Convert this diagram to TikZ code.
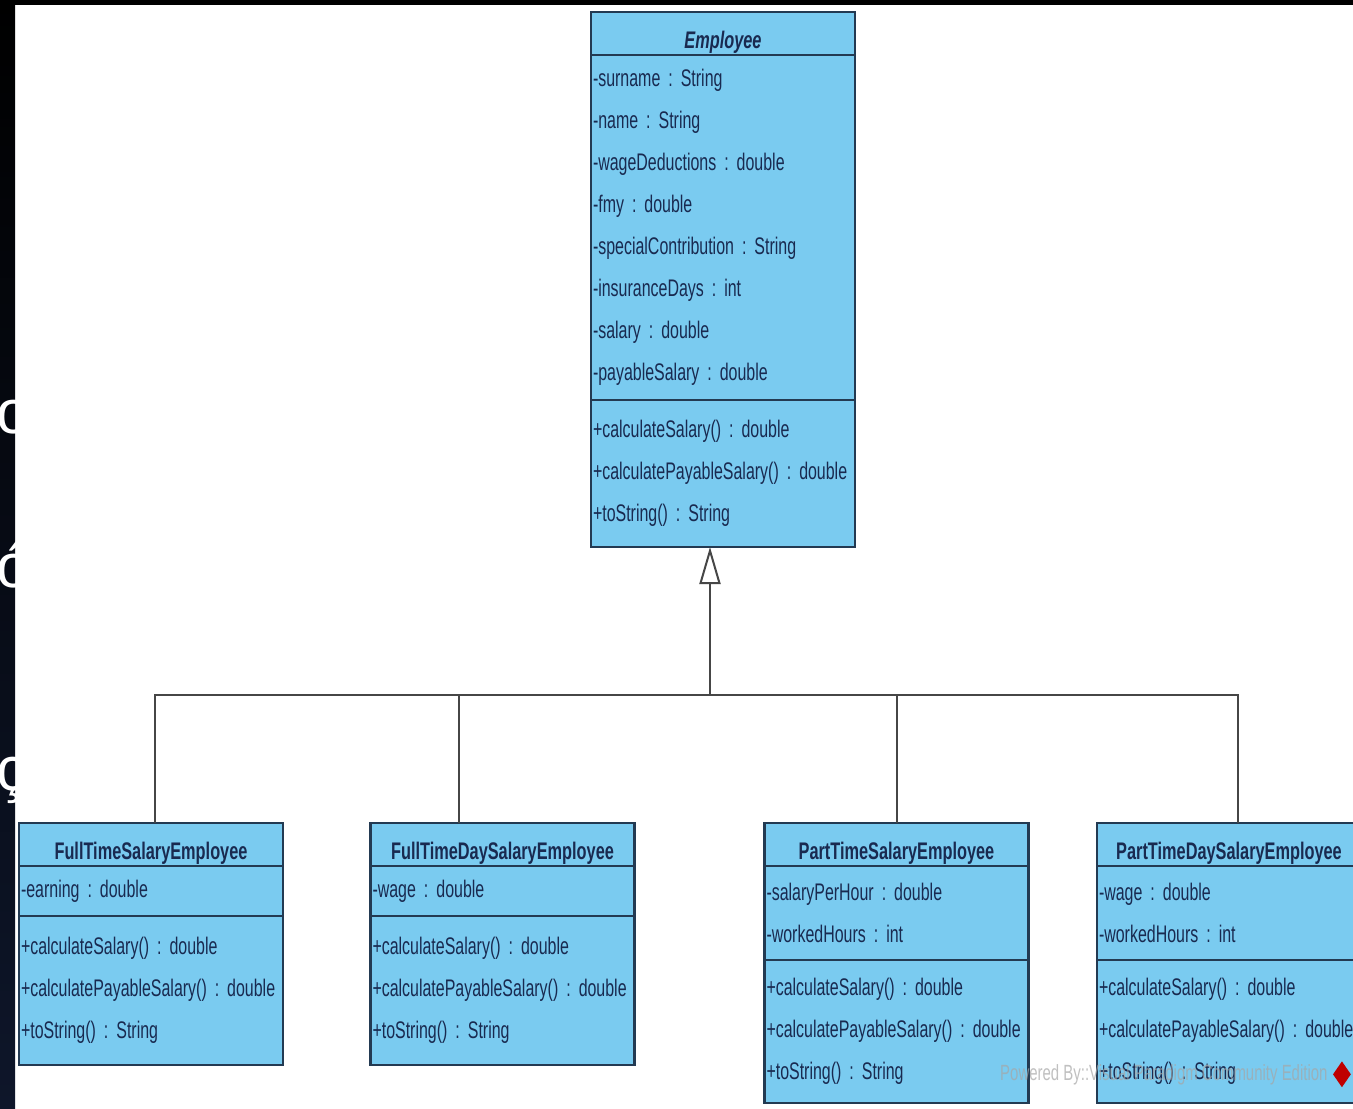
\documentclass[tikz,border=0pt]{standalone}
\usepackage{fontspec}
\newfontfamily\umlfont{Liberation Sans}[FakeStretch=0.68]
\newfontfamily\umlpartfont{Liberation Sans}[FakeStretch=0.665]
\newfontfamily\slidefont{Liberation Sans}
\usepackage{tikz}
\usetikzlibrary{positioning,arrows.meta,shapes.geometric}

\definecolor{umlfill}{RGB}{122,203,240}
\definecolor{umlline}{RGB}{35,58,82}
\definecolor{umltext}{RGB}{25,42,80}
\definecolor{umlgray}{RGB}{70,70,70}
\definecolor{slidebg}{RGB}{14,22,42}

\tikzset{
  classhead/.style={draw=umlline, fill=umlfill, line width=2.5pt, outer sep=0pt, inner sep=0pt,
    minimum width=264pt, minimum height=43pt, text=umltext, text height=29pt, text depth=0pt,
    font=\umlfont\bfseries\fontsize{24}{28}\selectfont},
  classpart/.style={draw=umlline, fill=umlfill, line width=2.5pt, outer sep=0pt,
    inner xsep=2pt, inner ysep=0pt, text width=260pt, align=left, text=umltext,
    font=\umlpartfont\fontsize{24}{42}\selectfont},
  genline/.style={draw=umlgray, line width=2pt},
}

\begin{document}
\frenchspacing
\hyphenpenalty=10000
\begin{tikzpicture}[x=1pt,y=-1pt]
% picture is in pixels of the screenshot, y going down
\def\picw{1353}
\def\pich{1109}
\useasboundingbox (0,0) rectangle (\picw,\pich);
\clip (0,0) rectangle (\picw,\pich);
\fill[white] (0,0) rectangle (\picw,\pich);

% dark slide edges behind the screenshot
\shade[top color=black, bottom color=slidebg] (0,0) rectangle (15,\pich);
\fill[black] (0,0) rectangle (\picw,5);
\begin{scope}
\clip (0,0) rectangle (15,\pich);
\node[anchor=base west, inner sep=0pt, text=white, font=\slidefont\fontsize{62}{62}\selectfont] (lo) at (-4,433) {o};
\node[anchor=base west, inner sep=0pt, text=white, font=\slidefont\fontsize{62}{62}\selectfont] (loacute) at (-4,587) {ó};
\node[anchor=base west, inner sep=0pt, text=white, font=\slidefont\fontsize{62}{62}\selectfont] (lccedil) at (-4,790) {ç};
\end{scope}

% superclass
\node[classhead] (emphead) at (723,33.5) {\itshape Employee};
\node[classpart, minimum height=345pt, below=0pt of emphead] (empattr) {-surname : String\\-name : String\\-wageDeductions : double\\-fmy : double\\-specialContribution : String\\-insuranceDays : int\\-salary : double\\-payableSalary : double};
\node[classpart, minimum height=147pt, below=0pt of empattr] (empmeth) {+calculateSalary() : double\\+calculatePayableSalary() : double\\+toString() : String};

% subclasses
\node[classhead] (fthead) at (151,844.5) {FullTimeSalaryEmployee};
\node[classpart, minimum height=50pt, below=0pt of fthead] (ftattr) {-earning : double};
\node[classpart, minimum height=149pt, below=0pt of ftattr] (ftmeth) {+calculateSalary() : double\\+calculatePayableSalary() : double\\+toString() : String};

\node[classhead] (ftdhead) at (502.5,844.5) {FullTimeDaySalaryEmployee};
\node[classpart, minimum height=50pt, below=0pt of ftdhead] (ftdattr) {-wage : double};
\node[classpart, minimum height=149pt, below=0pt of ftdattr] (ftdmeth) {+calculateSalary() : double\\+calculatePayableSalary() : double\\+toString() : String};

\node[classhead] (pthead) at (896.5,844.5) {PartTimeSalaryEmployee};
\node[classpart, minimum height=94pt, below=0pt of pthead] (ptattr) {-salaryPerHour : double\\-workedHours : int};
\node[classpart, minimum height=143pt, below=0pt of ptattr] (ptmeth) {+calculateSalary() : double\\+calculatePayableSalary() : double\\+toString() : String};

\node[classhead] (ptdhead) at (1229,844.5) {PartTimeDaySalaryEmployee};
\node[classpart, minimum height=94pt, below=0pt of ptdhead] (ptdattr) {-wage : double\\-workedHours : int};
\node[classpart, minimum height=143pt, below=0pt of ptdattr] (ptdmeth) {+calculateSalary() : double\\+calculatePayableSalary() : double\\+toString() : String};

% generalization tree
\coordinate (bus) at (710,695);
\draw[genline] ([xshift=4pt]fthead.north) |- (bus);
\draw[genline] ([xshift=-43.5pt]ftdhead.north) |- (bus);
\draw[genline] (pthead.north) |- (bus);
\draw[genline] ([xshift=9pt]ptdhead.north) |- (bus);
\draw[genline, -{Triangle[open, length=37pt, width=21pt, fill=white]}] (bus) -- (bus |- empmeth.south);

% tool watermark
\node[anchor=base west, inner sep=0pt, text=gray!70, text opacity=0.7, font=\umlfont\fontsize{22}{22}\selectfont] (mark) at (1000,1080) {Powered By::Visual Paradigm Community Edition};
\node[diamond, fill=red!75!black, inner sep=0pt, minimum width=18pt, minimum height=26pt, right=5pt of mark] (marklogo) {};
\end{tikzpicture}
\end{document}
